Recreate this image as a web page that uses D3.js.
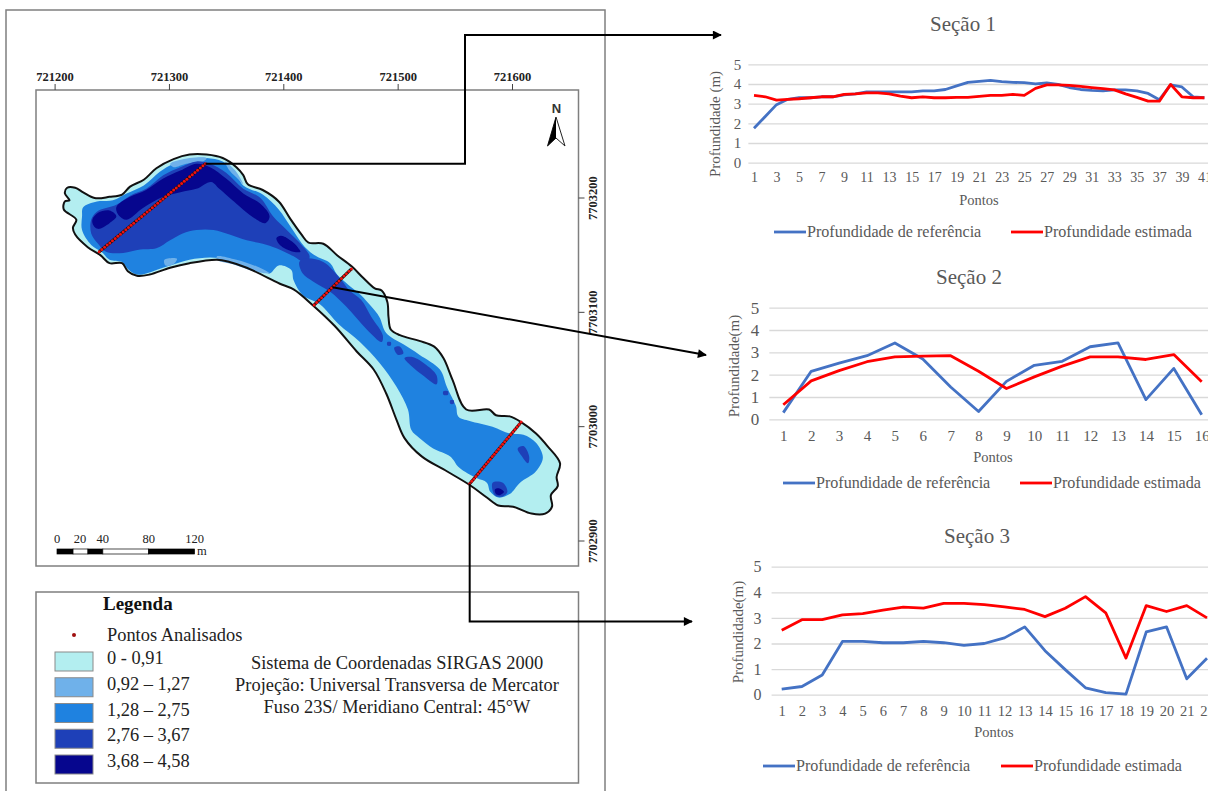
<!DOCTYPE html>
<html>
<head>
<meta charset="utf-8">
<title>Seções de profundidade</title>
<style>
html, body { margin: 0; padding: 0; background: #fff; overflow: hidden; }
svg { display: block; }
text { font-family: "Liberation Serif", serif; }
</style>
</head>
<body>
<div id="container"></div>
<script src="https://d3js.org/d3.v7.min.js"></script>
<script>
// Map coordinates: metres east of 721000 and north of 7703000.
const baseEast = 721000;
const baseNorth = 7703000;
const eastTicks = [721200, 721300, 721400, 721500, 721600];
const northTicks = [7703200, 7703100, 7703000, 7702900];

const lakeOutline = [[211,209],[218,209],[225,205],[235,200],[248,201],[259,203],[266,210],[278,216],[289,226],[304,234],[318,238],[333,238],[347,235],[359,227],[365,220],[369,212],[382,207],[396,197],[406,182],[416,168],[422,161],[435,160],[447,150],[460,140],[470,130],[480,121],[486,119],[491,109],[492,96],[494,85],[502,80],[519,75],[532,70],[540,60],[548,41],[560,15],[580,15],[586,10],[598,9],[608,4],[621,-6],[631,-17],[642,-32],[639,-44],[640,-52],[634,-60],[635,-70],[629,-76],[617,-76],[601,-70],[588,-69],[578,-62],[563,-51],[543,-39],[521,-26],[506,-10],[499,6],[490,29],[479,50],[464,66],[445,88],[426,106],[409,120],[397,125],[391,128],[368,139],[353,144],[342,146],[318,143],[301,139],[283,133],[272,132],[264,136],[259,143],[248,143],[240,150],[229,157],[218,168],[216,174],[219,181],[208,190],[209,197],[213,198],[209,204]];

const zone3 = [[[225,192],[237,197],[251,198],[263,204],[278,211],[292,223],[304,230],[318,234],[333,235],[347,232],[358,223],[365,211],[382,203],[396,190],[407,174],[419,157],[429,149],[441,143],[447,133],[457,124],[468,115],[477,105],[484,96],[490,82],[505,72],[519,63],[537,50],[543,35],[551,18],[553,9],[563,5],[583,0],[598,-6],[610,-7],[621,-14],[627,-27],[621,-39],[607,-49],[598,-59],[588,-62],[581,-57],[578,-49],[569,-45],[554,-36],[546,-26],[531,-19],[519,-10],[512,-3],[509,15],[499,35],[484,56],[467,74],[448,90],[432,107],[417,115],[409,128],[407,137],[396,141],[388,134],[382,137],[368,142],[353,146],[336,148],[318,146],[301,141],[289,137],[280,134],[272,133],[264,138],[259,144],[248,146],[241,153],[232,159],[224,172],[224,184]]];

const zone2 = [
  [[342,149],[359,146],[377,140],[388,134],[374,136],[356,142],[342,146]],
  [[296,146],[307,147],[304,142],[297,141]],
  [[301,230],[318,235],[333,235],[330,232],[315,230],[304,227]],
  [[349,232],[358,224],[365,212],[361,216],[353,224]]
];

const zone4 = [
  [[232,181],[237,188],[254,194],[266,202],[280,208],[295,220],[310,227],[324,232],[336,230],[350,222],[365,208],[380,200],[391,184],[403,172],[416,159],[423,149],[420,143],[409,149],[394,156],[382,160],[368,163],[353,168],[339,172],[324,172],[312,169],[301,163],[289,156],[275,155],[260,152],[245,153],[238,160],[232,169]],
  [[414,144],[419,147],[435,144],[451,128],[457,120],[468,111],[477,96],[487,80],[486,74],[473,85],[455,105],[441,118],[426,127],[417,134]],
  [[497,69],[502,70],[505,64],[500,63]],
  [[506,60],[513,61],[525,54],[534,45],[534,37],[522,45],[512,53]],
  [[491,74],[494,74],[494,71],[491,71]],
  [[540,31],[544,31],[544,28],[540,28]],
  [[546,23],[549,23],[549,20],[546,20]],
  [[605,-19],[610,-17],[615,-26],[614,-32],[608,-25]],
  [[583,-49],[592,-49],[596,-57],[592,-61],[585,-60]]
];

const zone5 = [
  [[254,192],[266,201],[280,207],[295,217],[310,224],[324,230],[336,227],[350,217],[365,204],[380,195],[388,184],[384,178],[371,185],[359,195],[344,208],[337,214],[324,208],[310,205],[295,201],[277,191],[263,181],[256,185]],
  [[233,181],[238,187],[248,189],[254,184],[248,178],[238,173],[234,176]],
  [[394,165],[398,167],[409,160],[415,153],[409,153],[397,159]],
  [[397,166],[401,166],[413,156],[412,153],[403,156],[397,160]],
  [[585,-55],[589,-54],[593,-57],[589,-60],[586,-59]]
];

// Sampling points along the three transects
const sec1East = [239,241.3,243.7,246,248.3,250.6,253,255.3,257.6,259.9,262.3,264.6,266.9,269.2,271.6,273.9,276.2,278.5,280.9,283.2,285.5,287.8,290.2,292.5,294.8,297.1,299.5,301.8,304.1,306.4,308.8,311.1,313.4,315.7,318.1,320.4,322.7,325,327.4,329.7,332];
const sec1North = [153,154.9,156.9,158.8,160.7,162.6,164.6,166.5,168.4,170.3,172.3,174.2,176.1,178,180,181.9,183.8,185.7,187.7,189.6,191.5,193.4,195.4,197.3,199.2,201.1,203.1,205,206.9,208.8,210.8,212.7,214.6,216.5,218.5,220.4,222.3,224.2,226.2,228.1,230];
const sec2East = [427,429.2,431.3,433.5,435.7,437.9,440,442.2,444.4,446.6,448.7,450.9,453.1,455.2,457.4,459.6];
const sec2North = [106.5,108.6,110.7,112.8,114.9,117,119.1,121.2,123.3,125.4,127.5,129.6,131.7,133.8,135.9,138];
const sec3East = [563,564.8,566.6,568.4,570.2,572,573.8,575.6,577.4,579.2,581,582.8,584.6,586.4,588.2,590,591.8,593.6,595.4,597.2,599,600.8,602.6,604.4,606.2,608];
const sec3North = [-50,-47.8,-45.7,-43.5,-41.4,-39.2,-37,-34.9,-32.7,-30.6,-28.4,-26.2,-24.1,-21.9,-19.8,-17.6,-15.4,-13.3,-11.1,-9,-6.8,-4.6,-2.5,-0.3,1.8,4];

// Scale bar
const barStops = [0, 14, 27, 40, 80, 120];
const barLabels = [0, 20, 40, 80, 120];

// Legend
const classLabels = ["0 - 0,91", "0,92 – 1,27", "1,28 – 2,75", "2,76 – 3,67", "3,68 – 4,58"];
const classColors = ["#b3eef0", "#6fb1ea", "#1f82e0", "#1e40b8", "#06068e"];
const noteLines = ["Sistema de Coordenadas SIRGAS 2000", "Projeção: Universal Transversa de Mercator", "Fuso 23S/ Meridiano Central: 45°W"];

// Depth profiles
const sec1Ref = [1.75,2.35,2.95,3.22,3.3,3.3,3.35,3.35,3.45,3.5,3.6,3.6,3.6,3.6,3.6,3.65,3.65,3.72,3.9,4.08,4.13,4.18,4.12,4.08,4.07,4.0,4.05,3.98,3.82,3.72,3.67,3.65,3.7,3.7,3.65,3.52,3.2,3.95,3.85,3.35,3.3];
const sec1Est = [3.42,3.35,3.18,3.22,3.25,3.3,3.35,3.35,3.47,3.5,3.55,3.55,3.5,3.38,3.3,3.35,3.3,3.3,3.32,3.32,3.37,3.42,3.42,3.47,3.42,3.78,3.95,3.95,3.93,3.88,3.82,3.76,3.7,3.5,3.32,3.13,3.13,3.98,3.35,3.3,3.3];
const sec2Ref = [0.3,2.15,2.52,2.85,3.42,2.7,1.45,0.35,1.7,2.42,2.6,3.25,3.42,0.88,2.28,0.2];
const sec2Est = [0.65,1.72,2.18,2.58,2.8,2.83,2.85,2.15,1.38,1.9,2.38,2.8,2.8,2.68,2.9,1.68];
const sec3Ref = [0.22,0.32,0.77,2.08,2.08,2.03,2.03,2.08,2.03,1.93,2.0,2.22,2.65,1.72,0.98,0.27,0.08,0.02,2.45,2.65,0.62,1.42];
const sec3Est = [2.52,2.93,2.93,3.12,3.17,3.3,3.42,3.38,3.57,3.57,3.52,3.43,3.33,3.05,3.38,3.83,3.2,1.43,3.48,3.25,3.48,3.0];
const depthTicks = [0, 1, 2, 3, 4, 5];
const refName = "Profundidade de referência";
const estName = "Profundidade estimada";

const width = 1208;
const height = 791;

const svg = d3.select("#container").append("svg")
    .attr("width", width)
    .attr("height", height);

svg.append("defs").append("marker")
    .attr("id", "arrow")
    .attr("viewBox", "0 0 10 10")
    .attr("refX", 9)
    .attr("refY", 5)
    .attr("markerUnits", "userSpaceOnUse")
    .attr("markerWidth", 10)
    .attr("markerHeight", 9)
    .attr("orient", "auto")
    .append("path")
    .attr("d", "M0,0L10,5L0,10Z")
    .attr("fill", "#000");

// Frames
const frameColor = "#7f7f7f";
function drawFrame(x0, y0, x1, y1, w) {
  svg.append("rect")
      .attr("x", x0).attr("y", y0)
      .attr("width", x1 - x0).attr("height", y1 - y0)
      .attr("fill", "none")
      .attr("stroke", frameColor)
      .attr("stroke-width", w);
}
drawFrame(6, 10, 605, 800, 1.5);
drawFrame(36, 90, 578.5, 566, 1.5);
drawFrame(36, 592, 578.5, 783, 1.5);

// Map scales: 114.3 px per 100 m on both axes
const x = d3.scaleLinear().domain([721200, 721600]).range([54.6, 512]);
const y = d3.scaleLinear().domain([7703200, 7702900]).range([198, 541]);
const px = d => x(baseEast + d);
const py = d => y(baseNorth + d);

const lakeShape = d3.line()
    .x(d => px(d[0]))
    .y(d => py(d[1]))
    .curve(d3.curveCatmullRomClosed.alpha(0.5));

const lake = svg.append("g");

lake.append("path").attr("d", lakeShape(lakeOutline)).attr("fill", classColors[0]);
function zones(list, color) {
  lake.append("g").selectAll("path").data(list).join("path")
      .attr("d", lakeShape)
      .attr("fill", color);
}
zones(zone3, classColors[2]);
zones(zone2, classColors[1]);
zones(zone4, classColors[3]);
zones(zone5, classColors[4]);
lake.append("path")
    .attr("d", lakeShape(lakeOutline))
    .attr("fill", "none")
    .attr("stroke", "#111")
    .attr("stroke-width", 2);

// Grid ticks and labels around the map
const eastAxis = svg.append("g")
    .attr("transform", "translate(0,90)")
    .call(d3.axisTop(x).tickValues(eastTicks).tickFormat(d3.format("d")).tickSize(6).tickPadding(3));
eastAxis.select(".domain").remove();
eastAxis.selectAll("line").attr("stroke", "#444");
eastAxis.selectAll("text")
    .attr("font-size", 12.5)
    .attr("font-weight", "bold")
    .attr("fill", "#222")
    .style("font-family", "Liberation Serif");

const northAxis = svg.append("g").attr("transform", "translate(578.5,0)");
northAxis.selectAll("line").data(northTicks).join("line")
    .attr("x1", 0).attr("x2", 6)
    .attr("y1", d => y(d)).attr("y2", d => y(d))
    .attr("stroke", "#444");
northAxis.selectAll("text").data(northTicks).join("text")
    .attr("transform", d => `translate(18,${y(d)}) rotate(-90)`)
    .attr("text-anchor", "middle")
    .attr("font-size", 12.5)
    .attr("font-weight", "bold")
    .attr("fill", "#222")
    .text(d => d);

// North arrow
svg.append("text")
    .attr("x", 556.5).attr("y", 113)
    .attr("text-anchor", "middle")
    .attr("font-size", 13)
    .attr("font-weight", "bold")
    .style("font-family", "Liberation Sans")
    .attr("fill", "#333")
    .text("N");
svg.append("path").attr("d", "M556,117L565,146L556,138L547.5,146Z")
    .attr("fill", "#fff").attr("stroke", "#222").attr("stroke-width", 1);
svg.append("path").attr("d", "M556,117L556,138L547.5,146Z").attr("fill", "#000");

// Scale bar
const barX = d3.scaleLinear().domain([0, 120]).range([57, 194.5]);
svg.append("g").selectAll("rect").data(d3.pairs(barStops)).join("rect")
    .attr("x", d => barX(d[0]))
    .attr("y", 549)
    .attr("width", d => barX(d[1]) - barX(d[0]))
    .attr("height", 5)
    .attr("fill", (d, i) => i % 2 ? "#fff" : "#000")
    .attr("stroke", "#000")
    .attr("stroke-width", 0.7);
svg.append("g").selectAll("text").data(barLabels).join("text")
    .attr("x", d => barX(d))
    .attr("y", 543)
    .attr("text-anchor", "middle")
    .attr("font-size", 12.5)
    .attr("fill", "#222")
    .text(d => d);
svg.append("text").attr("x", 197).attr("y", 555).attr("font-size", 12.5).attr("fill", "#222").text("m");

// Connectors, they run from the transects to the charts
function connector(points) {
  svg.append("path")
      .attr("d", d3.line()(points))
      .attr("fill", "none")
      .attr("stroke", "#000")
      .attr("stroke-width", 2)
      .attr("marker-end", "url(#arrow)");
}

// Transect points
function transect(east, north) {
  const pts = d3.zip(east, north);
  lake.append("line")
      .attr("x1", px(east[0])).attr("y1", py(north[0]))
      .attr("x2", px(east[east.length - 1])).attr("y2", py(north[north.length - 1]))
      .attr("stroke", "#111")
      .attr("stroke-width", 3);
  lake.append("g").selectAll("circle").data(pts).join("circle")
      .attr("cx", d => px(d[0]))
      .attr("cy", d => py(d[1]))
      .attr("r", 1.5)
      .attr("fill", "#f01010");
}
transect(sec1East, sec1North);
transect(sec2East, sec2North);
transect(sec3East, sec3North);

connector([[px(332), py(230)], [465, py(230)], [465, 35], [721, 35]]);
connector([[px(443), py(122)], [706, 355]]);
connector([[px(563), py(-50)], [px(563), 621.5], [692, 621.5]]);

// Legend box
svg.append("text")
    .attr("x", 103).attr("y", 610)
    .attr("font-size", 19)
    .attr("font-weight", "bold")
    .attr("fill", "#111")
    .text("Legenda");
svg.append("circle").attr("cx", 74).attr("cy", 635).attr("r", 2).attr("fill", "#a01010");
svg.append("text").attr("x", 107).attr("y", 641).attr("font-size", 18.4).attr("fill", "#222").text("Pontos Analisados");
const rows = d3.scaleLinear().domain([0, 4]).range([652, 755]);
const legendRow = svg.append("g").selectAll("g").data(classLabels).join("g")
    .attr("transform", (d, i) => `translate(0,${rows(i)})`);
legendRow.append("rect")
    .attr("x", 55).attr("width", 38).attr("height", 19)
    .attr("fill", (d, i) => classColors[i])
    .attr("stroke", "#8a8a8a")
    .attr("stroke-width", 1);
legendRow.append("text")
    .attr("x", 107).attr("y", 12)
    .attr("font-size", 18.4)
    .attr("fill", "#222")
    .text(d => d);
svg.append("g").selectAll("text").data(noteLines).join("text")
    .attr("x", 397)
    .attr("y", (d, i) => 669 + i * 22)
    .attr("text-anchor", "middle")
    .attr("font-size", 18.4)
    .attr("fill", "#222")
    .text(d => d);

// Line charts
function chart(o) {
  const n = o.ref.length;
  const xs = d3.scaleLinear().domain([1, o.lastPoint]).range([o.x1, o.xLast]);
  const ys = d3.scaleLinear().domain([0, 5]).range([o.y0, o.y5]);
  const step = xs(2) - xs(1);
  const g = svg.append("g");
  const textColor = "#595959";

  g.append("text")
      .attr("x", o.titleX).attr("y", o.titleY)
      .attr("text-anchor", "middle")
      .attr("font-size", 21)
      .attr("fill", textColor)
      .text(o.title);

  const yAxis = g.append("g")
      .attr("transform", `translate(${o.x1 - step / 2},0)`)
      .call(d3.axisLeft(ys).tickValues(depthTicks).tickFormat(d3.format("d"))
        .tickSize(-(width + 20 - o.x1)).tickPadding(o.yPad));
  yAxis.select(".domain").remove();
  yAxis.selectAll("line").attr("stroke", "#d9d9d9").attr("stroke-width", 1.3);
  yAxis.selectAll("text")
      .attr("font-size", o.yFont)
      .attr("fill", textColor)
      .style("font-family", "Liberation Serif");

  const xAxis = g.append("g")
      .attr("transform", `translate(0,${o.y0})`)
      .call(d3.axisBottom(xs).tickValues(d3.range(1, n + 1, o.every)).tickFormat(d3.format("d"))
        .tickSize(0).tickPadding(o.xPad));
  xAxis.select(".domain").remove();
  xAxis.selectAll("text")
      .attr("font-size", o.xFont)
      .attr("fill", textColor)
      .style("font-family", "Liberation Serif");

  g.append("text")
      .attr("x", o.pontosX).attr("y", o.pontosY)
      .attr("text-anchor", "middle")
      .attr("font-size", 14.5)
      .attr("fill", textColor)
      .text("Pontos");
  g.append("text")
      .attr("transform", `translate(${o.labelX},${o.labelY}) rotate(-90)`)
      .attr("text-anchor", "middle")
      .attr("font-size", 15)
      .attr("fill", textColor)
      .text(o.yLabel);

  const line = d3.line().x((d, i) => xs(i + 1)).y(d => ys(d));
  const series = [[o.ref, "#4472c4"], [o.est, "#ff0000"]];
  g.selectAll("path.profile").data(series).join("path")
      .attr("class", "profile")
      .attr("d", d => line(d[0]))
      .attr("fill", "none")
      .attr("stroke", d => d[1])
      .attr("stroke-width", 2.8)
      .attr("stroke-linejoin", "round");

  // legend keys
  [[o.key1, refName, "#4472c4"], [o.key2, estName, "#ff0000"]].forEach(([kx, name, color]) => {
    g.append("line")
        .attr("x1", kx).attr("x2", kx + 32)
        .attr("y1", o.keyY).attr("y2", o.keyY)
        .attr("stroke", color)
        .attr("stroke-width", 2.8);
    g.append("text")
        .attr("x", kx + 33).attr("y", o.keyY + 4.5)
        .attr("font-size", 16.1)
        .attr("fill", textColor)
        .text(name);
  });
}

chart({ title: "Seção 1", ref: sec1Ref, est: sec1Est, yLabel: "Profundidade (m)", every: 2,
  lastPoint: 41, x1: 754, xLast: 1204.4, y0: 162.7, y5: 64.3,
  titleX: 963, titleY: 31, yFont: 15, xFont: 14, yPad: 7, xPad: 9,
  pontosX: 979, pontosY: 205, labelX: 720, labelY: 124, key1: 774, key2: 1011, keyY: 232 });
chart({ title: "Seção 2", ref: sec2Ref, est: sec2Est, yLabel: "Profundidade(m)", every: 1,
  lastPoint: 16, x1: 783.3, xLast: 1201.7, y0: 419.3, y5: 307.7,
  titleX: 969, titleY: 284, yFont: 17, xFont: 15, yPad: 10, xPad: 11,
  pontosX: 993, pontosY: 462, labelX: 739, labelY: 366, key1: 783, key2: 1020, keyY: 483 });
chart({ title: "Seção 3", ref: sec3Ref, est: sec3Est, yLabel: "Profundidade(m)", every: 1,
  lastPoint: 22, x1: 781.7, xLast: 1207, y0: 694.7, y5: 566.7,
  titleX: 977, titleY: 543, yFont: 16, xFont: 14.5, yPad: 10, xPad: 11,
  pontosX: 994, pontosY: 737, labelX: 743, labelY: 632, key1: 763, key2: 1001, keyY: 766 });
</script>
</body>
</html>
